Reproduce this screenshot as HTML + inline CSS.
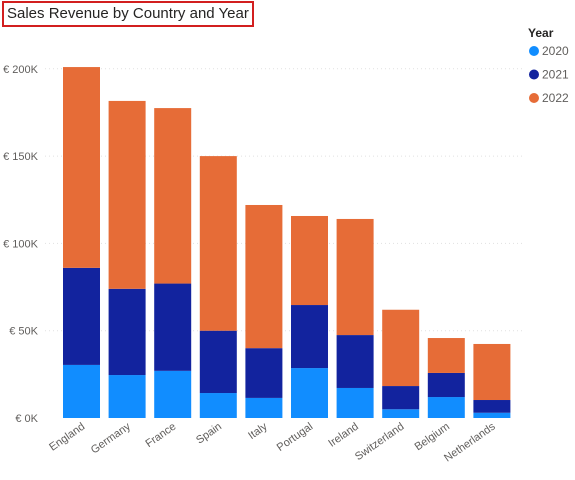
<!DOCTYPE html>
<html><head><meta charset="utf-8"><style>
body{margin:0;background:#fff;font-family:"Liberation Sans",sans-serif}
#title{position:absolute;left:2px;top:1px;width:245px;height:22px;border:2px solid #d21f1f;font-size:15px;line-height:22px;padding-left:3px;color:#252423;box-sizing:content-box}
</style></head><body>
<div id="title">Sales Revenue by Country and Year</div>
<svg id="chart" width="575" height="480" style="position:absolute;left:0;top:0"></svg>
<script>
const countries=["England","Germany","France","Spain","Italy","Portugal","Ireland","Switzerland","Belgium","Netherlands"];
const v2020=[30.4,24.6,27,14.3,11.5,28.6,17.2,5,12,3];
const v2021=[55.6,49.4,50,35.7,28.5,36.1,30.3,13.3,13.8,7.3];
const v2022=[115,107.6,100.5,100,82,51,66.5,43.7,20,32.1];
const yTicks=[0,50,100,150,200];
const years=["2020","2021","2022"];
const colors=["#118dff","#12239e","#e66c37"];
const NS="http://www.w3.org/2000/svg";
const svg=document.getElementById('chart');
const y0=418,pxPerK=1.746;
const y=v=>y0-v*pxPerK;
const xC=i=>81.5+i*45.6;
const bw=37;
function el(t,a){const e=document.createElementNS(NS,t);for(const k in a)e.setAttribute(k,a[k]);svg.appendChild(e);return e;}
yTicks.forEach(t=>{
  if(t>0){const g=el('line',{x1:45,x2:525,y1:y(t),y2:y(t),stroke:'#e1e1e1','stroke-dasharray':'1,3'});
  
  }
  const l=el('text',{x:38,y:y(t)+4,'text-anchor':'end','font-size':'11',fill:'#605e5c'});
  l.textContent='€ '+t+'K';
  
  
});
const series=[v2020,v2021,v2022];
countries.forEach((c,i)=>{
  let base=0;
  series.forEach((s,j)=>{
    const r=el('rect',{x:xC(i)-bw/2,y:y(base+s[i]),width:bw,height:s[i]*pxPerK,fill:colors[j]});
    
    
    base+=s[i];
  });
  const t=el('text',{x:0,y:0,'text-anchor':'end','font-size':'11',fill:'#605e5c',transform:`translate(${xC(i)+4},${428}) rotate(-35)`});
  t.textContent=c;
  
  
});
const lt=el('text',{x:528,y:37,'font-size':'12','font-weight':'bold',fill:'#252423'});
lt.textContent='Year';


years.forEach((yr,j)=>{
  const cy=51+j*23.5;
  const c=el('circle',{cx:534,cy:cy,r:5,fill:colors[j]});
  
  
  const t=el('text',{x:542,y:cy+4,'font-size':'12',fill:'#605e5c'});
  t.textContent=yr;
  
  
});
</script>
</body></html>
